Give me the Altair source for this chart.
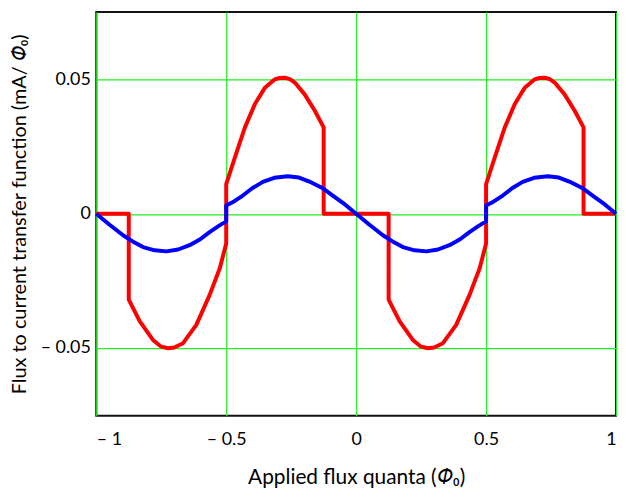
import altair as alt
import pandas as pd

# Red curve: one period (x in flux quanta, y in mA/Phi0)
red_x_p = [-1.0, -0.875, -0.875, -0.833, -0.782, -0.75, -0.724, -0.70, -0.666, -0.615, -0.564, -0.525, -0.5,
           -0.5, -0.4665, -0.428, -0.39, -0.351, -0.313, -0.295, -0.274, -0.255, -0.236, -0.198, -0.159, -0.125,
           -0.125, 0.0]
red_y_p = [0.0, 0.0, -0.032, -0.040, -0.047, -0.0495, -0.0501, -0.0498, -0.0482, -0.0414, -0.0303, -0.0204, -0.0111,
           0.0111, 0.021, 0.0322, 0.0408, 0.047, 0.0501, 0.0506, 0.0507, 0.0502, 0.0489, 0.0445, 0.0384, 0.0322,
           0.0, 0.0]
red_x_q = [0.0, 0.125, 0.125, 0.167, 0.218, 0.25, 0.276, 0.30, 0.334, 0.385, 0.436, 0.475, 0.5,
           0.5, 0.5335, 0.572, 0.61, 0.649, 0.687, 0.705, 0.726, 0.745, 0.764, 0.802, 0.841, 0.875,
           0.875, 1.0]
red_y_q = red_y_p

blue_x_p = [-1.0, -0.95, -0.897, -0.86, -0.82, -0.775, -0.73, -0.685, -0.641, -0.6, -0.564, -0.53, -0.5,
            -0.5, -0.47, -0.436, -0.40, -0.359, -0.315, -0.263, -0.22, -0.18, -0.128, -0.09, -0.05, 0.0]
blue_y_p = [0.0, -0.0040, -0.008, -0.0103, -0.0124, -0.0136, -0.014, -0.0133, -0.0117, -0.0095, -0.0068, -0.0046, -0.0028,
            0.0031, 0.0046, 0.0068, 0.0095, 0.0119, 0.0134, 0.014, 0.0135, 0.0120, 0.0095, 0.0068, 0.0040, 0.0]
blue_x_q = [0.0, 0.05, 0.103, 0.14, 0.18, 0.225, 0.27, 0.315, 0.359, 0.4, 0.436, 0.47, 0.5,
            0.5, 0.53, 0.564, 0.60, 0.641, 0.685, 0.737, 0.78, 0.82, 0.872, 0.91, 0.95, 1.0]
blue_y_q = blue_y_p

x_ticks = [-1, -0.5, 0, 0.5, 1]
y_ticks = [-0.05, 0, 0.05]

rx = red_x_p + red_x_q
ry = red_y_p + red_y_q
bx = blue_x_p + blue_x_q
by = blue_y_p + blue_y_q

red_df = pd.DataFrame({"x": rx, "y": ry, "i": list(range(len(rx))), "s": "red"})
blue_df = pd.DataFrame({"x": bx, "y": by, "i": list(range(len(bx))), "s": "blue"})

FONT = "Lato"
PHI = "\U0001D6F7\u2080"

x_enc = alt.X("x:Q", scale=alt.Scale(domain=[-1, 1], nice=False, zero=False),
              axis=alt.Axis(values=x_ticks, grid=True, gridColor="#22ee22", gridWidth=1.2,
                            domain=False, ticks=False, labelPadding=15, labelFontSize=18,
                            labelFont=FONT, labelColor="black",
                            labelExpr="datum.value < 0 ? '\u2013 ' + format(abs(datum.value), '~g') : format(datum.value, '~g')",
                            title="Applied flux quanta (" + PHI + ")", titleFont=FONT, titleFontSize=21,
                            titleFontWeight="normal", titleColor="black", titlePadding=18))
y_enc = alt.Y("y:Q", scale=alt.Scale(domain=[-0.0752, 0.0752], nice=False, zero=False),
              axis=alt.Axis(values=y_ticks, grid=True, gridColor="#22ee22", gridWidth=1.2,
                            domain=False, ticks=False, labelPadding=6, labelFontSize=18,
                            labelFont=FONT, labelColor="black",
                            labelExpr="datum.value == 0 ? '0' : (datum.value < 0 ? '\u2013 ' + format(abs(datum.value), '.2f') : format(datum.value, '.2f'))",
                            title="Flux to current transfer function (mA/ " + PHI + ")", titleFont=FONT,
                            titleFontSize=20, titleFontWeight="normal", titleColor="black", titlePadding=11))

red = alt.Chart(red_df).mark_line(color="#ff0000", strokeWidth=4, strokeJoin="round").encode(
    x=x_enc, y=y_enc, order="i:Q")
blue = alt.Chart(blue_df).mark_line(color="#0000ff", strokeWidth=4, strokeJoin="round").encode(
    x="x:Q", y="y:Q", order="i:Q")

chart = alt.layer(red, blue).properties(
    width=524, height=407,
    background="white",
    autosize=alt.AutoSizeParams(type="none"),
    padding={"left": 89, "top": 2, "right": 2, "bottom": 77},
).configure_view(stroke="#111", strokeWidth=2)

chart.save("out.html", embed_options={"renderer": "svg", "actions": False})
